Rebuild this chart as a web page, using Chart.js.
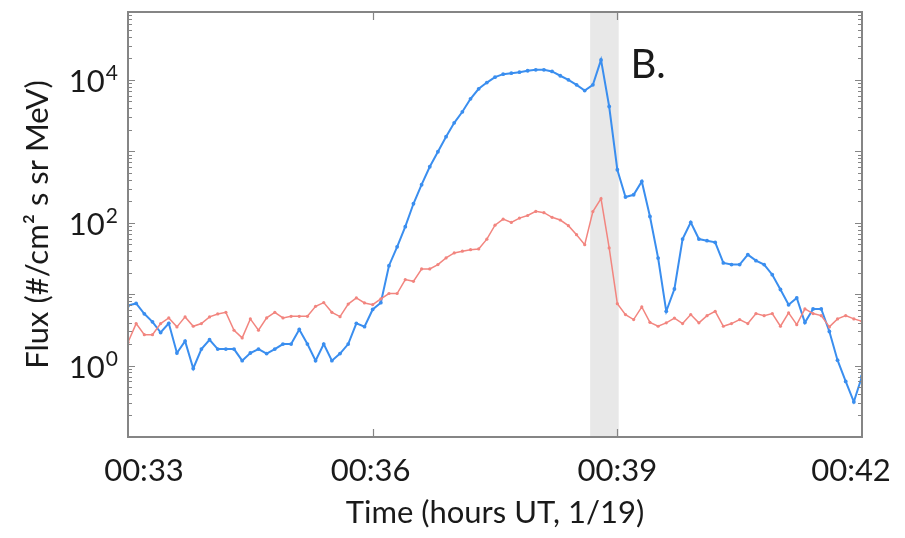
<!DOCTYPE html>
<html>
<head>
<meta charset="utf-8">
<script src="https://cdn.jsdelivr.net/npm/chart.js@4"></script>
<style>
  html, body { margin: 0; padding: 0; background: #fff; }
  canvas { display: block; }
</style>
</head>
<body>
<canvas id="chart" width="905" height="538"></canvas>
<script>
// samples every 6 s starting at 00:33:00
const startMinute = 33;
const stepSeconds = 6;

const blueFlux = [6.9, 7.4, 5.3, 4.1, 2.9, 3.9, 1.5, 2.2, 0.91, 1.7,
    2.3, 1.7, 1.7, 1.7, 1.17, 1.5, 1.7, 1.47, 1.7, 2.0,
    2.0, 3.2, 2.0, 1.17, 2.0, 1.17, 1.47, 2.0, 3.9, 3.5,
    6.1, 7.6, 25, 46, 88, 184, 340, 607, 984, 1600,
    2500, 3570, 5420, 7480, 9160, 10900, 12000, 12400, 12800, 13400,
    13800, 13800, 13100, 11400, 10000, 8510, 7080, 8510, 19000, 4230,
    551, 229, 246, 378, 122, 32, 5.75, 11.8, 59, 101,
    59, 56, 53, 27.3, 25.9, 25.9, 35.7, 29.4, 25.9, 18.7,
    11.6, 7.1, 8.85, 4.0, 6.2, 6.2, 3.0, 1.19, 0.60, 0.31, 0.71];

const redFlux = [2.12, 3.87, 2.71, 2.71, 3.87, 4.65, 3.48, 4.80, 3.55, 3.87,
    4.80, 5.28, 5.56, 3.12, 2.44, 4.50, 3.12, 4.65, 5.56, 4.65,
    4.89, 4.89, 4.89, 6.75, 7.61, 5.56, 4.84, 7.25, 8.85, 7.53,
    7.13, 8.57, 10.2, 10.2, 16.0, 15.1, 22.5, 22.5, 25.9, 32.1,
    37.7, 39.9, 41.9, 42.9, 58.8, 92.2, 112, 101, 116, 126,
    144, 138, 119, 109, 90.8, 67.9, 49.2, 143, 217, 44.3,
    7.36, 5.17, 4.40, 6.62, 4.03, 3.55, 3.96, 4.62, 3.87, 5.17,
    3.96, 5.00, 5.75, 3.55, 3.87, 4.40, 3.87, 5.34, 5.00, 5.34,
    3.55, 5.46, 3.74, 6.21, 5.34, 5.00, 3.48, 4.50, 5.00, 4.50, 4.17];

const xTicks = [33, 36, 39, 42];       // minutes after 00:00
const xTickLabels = ['00:33', '00:36', '00:39', '00:42'];
const yLabelExps = [0, 2, 4];          // decades that get a label
const shadeRange = [38 + 40 / 60, 39 + 1 / 60];
const panelLabel = { text: 'B.', x: 39.16, y: 10700 };

const times = blueFlux.map((_, i) => startMinute + i * stepSeconds / 60);
const toPoints = vals => vals.map((v, i) => ({ x: times[i], y: v }));

const FONT = 'Lato, "Open Sans", sans-serif';
const INK = '#1a1a1a';
const FRAME = '#858585';
// end labels sit pulled in toward the plot, as in the source figure
const labelShift = [16, -2, 0, -11];

const decor = {
    id: 'decor',
    beforeDatasetsDraw(chart) {
        const { ctx, chartArea: a, scales: { x } } = chart;
        const x0 = x.getPixelForValue(shadeRange[0]);
        const x1 = x.getPixelForValue(shadeRange[1]);
        ctx.save();
        ctx.fillStyle = '#e8e8e8';
        ctx.fillRect(x0, a.top, x1 - x0, a.bottom - a.top);
        ctx.restore();
    },
    afterDatasetsDraw(chart) {
        const { ctx, chartArea: a, scales: { x, y } } = chart;
        ctx.save();
        ctx.strokeStyle = FRAME;
        ctx.lineWidth = 1.2;
        // log ticks on both sides, pointing inward
        for (let e = -1; e <= 5; e++) {
            for (let m = 1; m <= 9; m++) {
                const v = m * Math.pow(10, e);
                if (v < y.min || v > y.max) continue;
                const py = Math.round(y.getPixelForValue(v)) + 0.5;
                const len = m === 1 ? 7 : 4;
                ctx.beginPath();
                ctx.moveTo(a.left, py); ctx.lineTo(a.left + len, py);
                ctx.moveTo(a.right, py); ctx.lineTo(a.right - len, py);
                ctx.stroke();
            }
        }
        xTicks.slice(1, -1).forEach(t => {
            const px = Math.round(x.getPixelForValue(t)) + 0.5;
            ctx.beginPath();
            ctx.moveTo(px, a.bottom); ctx.lineTo(px, a.bottom - 8);
            ctx.moveTo(px, a.top); ctx.lineTo(px, a.top + 8);
            ctx.stroke();
        });
        ctx.lineWidth = 2;
        ctx.strokeRect(a.left, a.top, a.right - a.left, a.bottom - a.top);

        ctx.fillStyle = INK;

        // x labels
        ctx.font = '31px ' + FONT;
        ctx.textAlign = 'center';
        ctx.textBaseline = 'middle';
        xTicks.forEach((t, i) => {
            ctx.fillText(xTickLabels[i], x.getPixelForValue(t) + labelShift[i], a.bottom + 34);
        });

        // y labels: 10 with superscript exponent
        ctx.textAlign = 'right';
        yLabelExps.forEach(e => {
            const py = y.getPixelForValue(Math.pow(10, e));
            const xr = a.left - 10;
            ctx.font = '21px ' + FONT;
            ctx.textBaseline = 'alphabetic';
            const ew = ctx.measureText(String(e)).width;
            ctx.fillText(String(e), xr, py);
            ctx.font = '31px ' + FONT;
            ctx.fillText('10', xr - ew - 1, py + 12);
        });

        // panel label
        ctx.font = '40px ' + FONT;
        ctx.textAlign = 'left';
        ctx.textBaseline = 'alphabetic';
        ctx.fillText(panelLabel.text, x.getPixelForValue(panelLabel.x), y.getPixelForValue(panelLabel.y));
        ctx.restore();
    }
};

new Chart(document.getElementById('chart'), {
    type: 'line',
    data: {
        datasets: [{
            data: toPoints(redFlux),
            borderColor: '#f2857f',
            backgroundColor: '#f2857f',
            borderWidth: 1.5,
            pointRadius: 1.6,
            pointBorderWidth: 0
        }, {
            data: toPoints(blueFlux),
            borderColor: '#3a8eef',
            backgroundColor: '#3a8eef',
            borderWidth: 2,
            pointRadius: 1.9,
            pointBorderWidth: 0
        }]
    },
    options: {
        responsive: false,
        animation: false,
        devicePixelRatio: 1,
        layout: { padding: { left: 0, right: 43, top: 12, bottom: 0 } },
        scales: {
            x: {
                type: 'linear',
                min: 33,
                max: 42,
                afterBuildTicks: s => { s.ticks = xTicks.map(v => ({ value: v })); },
                afterFit: s => { s.height = 101; s.paddingRight = 0; s.paddingLeft = 0; },
                border: { display: false },
                grid: { display: false, drawTicks: false },
                ticks: { display: false },
                title: {
                    display: true,
                    text: 'Time (hours UT, 1/19)',
                    color: INK,
                    font: { family: FONT, size: 31 },
                    padding: { top: 0, bottom: 6 }
                }
            },
            y: {
                type: 'logarithmic',
                min: 0.1,
                max: 89000,
                afterFit: s => { s.width = 128; s.paddingTop = 0; s.paddingBottom = 0; },
                border: { display: false },
                grid: { display: false, drawTicks: false },
                ticks: { display: false },
                title: {
                    display: true,
                    text: 'Flux (#/cm² s sr MeV)',
                    color: INK,
                    font: { family: FONT, size: 31 },
                    padding: { top: 19, bottom: 0 }
                }
            }
        },
        plugins: {
            legend: { display: false },
            tooltip: { enabled: false }
        }
    },
    plugins: [decor]
});
</script>
</body>
</html>
